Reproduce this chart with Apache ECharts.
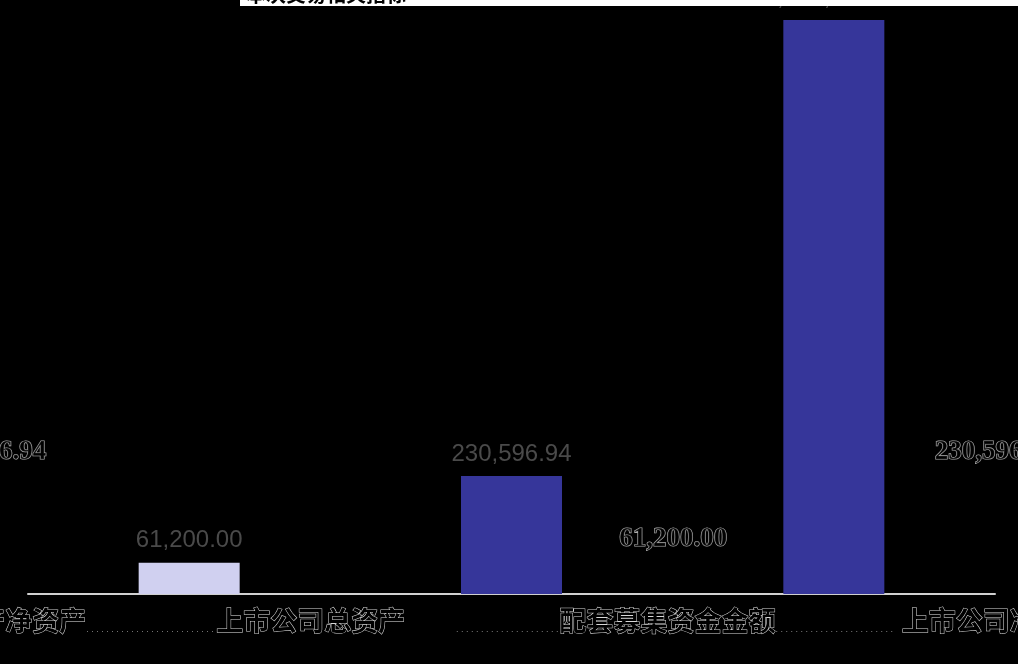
<!DOCTYPE html>
<html>
<head>
<meta charset="utf-8">
<script src="https://cdn.jsdelivr.net/npm/echarts@6/dist/echarts.min.js"></script>
<style>
html,body{margin:0;padding:0;background:#000;}
#chart{width:1018px;height:664px;}
</style>
</head>
<body>
<div id="chart"></div>
<script>
// ---- data ----
const categories = ['标的资产净资产', '配套募集资金金额', '上市公司净资产'];
const secondaryNames = ['上市公司总资产', '', ''];
const values = [61200.00, 230596.94, 1121700.00];
const ghostLabelsA = [61200.00, 230596.94, null];
const ghostLabelsB = [null, 230596.94, null];
const barColors = ['#d0d0f0', '#36369a', '#36369a'];

function fmt(v) {
  return Number(v).toLocaleString('en-US', {minimumFractionDigits: 2, maximumFractionDigits: 2});
}
const dots = (n) => '. '.repeat(n);

const chart = echarts.init(document.getElementById('chart'), null, {renderer: 'canvas'});

const ghostLabel = {
  show: true,
  position: 'top',
  distance: 10,
  formatter: p => fmt(p.value),
  color: '#000',
  textBorderColor: '#d8d8d8',
  textBorderWidth: 1.2,
  fontSize: 27,
  fontWeight: 'bold',
  fontFamily: 'Liberation Serif'
};

const option = {
  backgroundColor: '#000',
  animation: false,
  title: {
    text: '本次交易相关指标',
    left: 240,
    top: -20,
    backgroundColor: '#fff',
    padding: [4, 700, 2, 6],
    textStyle: {color: '#000', fontSize: 20, fontWeight: 'bold', fontFamily: 'Noto Sans CJK SC'}
  },
  grid: {left: 28, right: 23, top: 20, bottom: 70, containLabel: false, outerBoundsMode: 'none'},
  xAxis: {
    type: 'category',
    data: categories,
    axisLine: {lineStyle: {color: '#d0d0d0', width: 2}},
    axisTick: {show: false},
    axisLabel: {
      interval: 0,
      margin: 10,
      hideOverlap: false,
      formatter: function (v, i) {
        if (i === 0) return '{t|' + v + '}{d1|' + dots(26) + '}{t|' + secondaryNames[0] + '}{pr|  }';
        if (i === 1) return '{pl2|  }{d2|' + dots(21) + '}{t|' + v + '}{d3|' + dots(24) + '}';
        return '{pl3|  }{t|' + v + '}';
      },
      rich: {
        t: {fontSize: 27, fontWeight: 'bold', fontFamily: 'Noto Sans CJK SC', color: '#000', textBorderColor: '#d8d8d8', textBorderWidth: 1, verticalAlign: 'bottom', lineHeight: 30},
        d1: {fontSize: 9, color: '#888', width: 130, verticalAlign: 'bottom', lineHeight: 30},
        d2: {fontSize: 9, color: '#888', width: 102, verticalAlign: 'bottom', lineHeight: 30},
        d3: {fontSize: 9, color: '#888', width: 120, verticalAlign: 'bottom', lineHeight: 30},
        pr: {width: 76, fontSize: 9},
        pl2: {width: 330, fontSize: 9},
        pl3: {width: 325, fontSize: 9}
      }
    }
  },
  yAxis: {
    type: 'value',
    show: false,
    min: 0,
    max: v => v.max,
    splitLine: {show: false}
  },
  series: [
    {
      type: 'bar',
      data: values.map((v, i) => ({value: v, itemStyle: {color: barColors[i]}})),
      barWidth: 101,
      label: {
        show: true,
        position: 'top',
        distance: 10,
        formatter: p => fmt(p.value),
        color: '#4a4a4a',
        fontSize: 24,
        fontFamily: 'Liberation Sans'
      }
    },
    {
      type: 'scatter',
      data: ghostLabelsA,
      symbolSize: 0,
      itemStyle: {color: 'rgba(0,0,0,0)'},
      label: Object.assign({}, ghostLabel, {offset: [484, 0]})
    },
    {
      type: 'scatter',
      data: ghostLabelsB,
      symbolSize: 0,
      itemStyle: {color: 'rgba(0,0,0,0)'},
      label: Object.assign({}, ghostLabel, {offset: [-526, 0]})
    }
  ]
};
chart.setOption(option);
</script>
</body>
</html>
